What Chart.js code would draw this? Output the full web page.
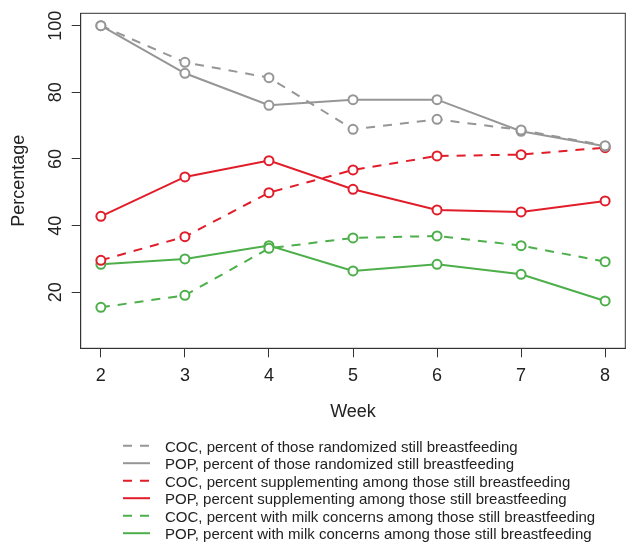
<!DOCTYPE html>
<html>
<head>
<meta charset="utf-8">
<script src="https://cdn.jsdelivr.net/npm/chart.js@4/dist/chart.umd.min.js"></script>
<style>
  body { margin: 0; background: #fff; }
  canvas { display: block; }
</style>
</head>
<body>
<canvas id="myChart" width="640" height="553"></canvas>
<script>
// values
var weeks = [2, 3, 4, 5, 6, 7, 8];
var yTicks = [20, 40, 60, 80, 100];

var cocRandomized = [100, 89.0, 84.4, 68.9, 71.9, 68.7, 64.0];
var popRandomized = [100, 85.7, 76.1, 77.8, 77.8, 68.3, 63.8];
var cocSupplement = [29.6, 36.7, 49.9, 56.7, 60.9, 61.3, 63.4];
var popSupplement = [42.8, 54.6, 59.5, 50.9, 44.7, 44.1, 47.4];
var cocMilk = [15.5, 19.1, 33.2, 36.3, 36.9, 34.0, 29.2];
var popMilk = [28.4, 30.0, 34.0, 26.4, 28.4, 25.4, 17.4];

var seriesLabels = [
  'COC, percent of those randomized still breastfeeding',
  'POP, percent of those randomized still breastfeeding',
  'COC, percent supplementing among those still breastfeeding',
  'POP, percent supplementing among those still breastfeeding',
  'COC, percent with milk concerns among those still breastfeeding',
  'POP, percent with milk concerns among those still breastfeeding'
];

var gray = 'rgb(150,150,150)';
var red = 'rgb(225,29,42)';
var green = 'rgb(77,175,74)';
var dash = [9, 8];
var FONT = '"Liberation Sans", Arial, Helvetica, sans-serif';

function pts(vals) {
  return weeks.map(function(w, i) { return {x: w, y: vals[i]}; });
}

function makeSet(label, vals, color, dashed) {
  return {
    label: label,
    data: pts(vals),
    borderColor: color,
    backgroundColor: color,
    borderWidth: 2,
    borderDash: dashed ? dash : [],
    pointRadius: 4.5,
    pointBorderWidth: 2,
    pointBorderColor: color,
    pointBackgroundColor: '#fff',
    pointHoverRadius: 4.5,
    tension: 0
  };
}

var datasets = [
  makeSet(seriesLabels[0], cocRandomized, gray, true),
  makeSet(seriesLabels[1], popRandomized, gray, false),
  makeSet(seriesLabels[2], cocSupplement, red, true),
  makeSet(seriesLabels[3], popSupplement, red, false),
  makeSet(seriesLabels[4], cocMilk, green, true),
  makeSet(seriesLabels[5], popMilk, green, false)
];

// box, rotated y labels and the legend under the plot
var extras = {
  id: 'extras',
  afterDraw: function(chart) {
    var ctx = chart.ctx, a = chart.chartArea, ys = chart.scales.y;
    ctx.save();
    ctx.strokeStyle = '#333';
    ctx.lineWidth = 1;
    ctx.strokeRect(a.left, a.top, a.right - a.left, a.bottom - a.top);

    ctx.fillStyle = '#222';
    ctx.font = '18px ' + FONT;
    ctx.textAlign = 'center';
    ctx.textBaseline = 'alphabetic';
    yTicks.forEach(function(v) {
      var py = ys.getPixelForValue(v);
      ctx.save();
      ctx.translate(60.5, py);
      ctx.rotate(-Math.PI / 2);
      ctx.fillText(String(v), 0, 0);
      ctx.restore();
    });

    ctx.font = '15px ' + FONT;
    ctx.textAlign = 'left';
    chart.data.datasets.forEach(function(ds, i) {
      var ly = 445.7 + i * 17.5;
      ctx.strokeStyle = ds.borderColor;
      ctx.lineWidth = 2;
      ctx.setLineDash(ds.borderDash);
      ctx.beginPath();
      ctx.moveTo(123, ly);
      ctx.lineTo(150, ly);
      ctx.stroke();
      ctx.setLineDash([]);
      ctx.fillStyle = '#222';
      ctx.fillText(ds.label, 165, ly + 6);
    });
    ctx.restore();
  }
};

var ctx = document.getElementById('myChart').getContext('2d');
var myChart = new Chart(ctx, {
  type: 'line',
  data: { datasets: datasets },
  plugins: [extras],
  options: {
    responsive: false,
    animation: false,
    layout: { padding: { top: 13.3, right: 14.7, left: 0, bottom: 0 } },
    plugins: {
      legend: { display: false },
      tooltip: { enabled: false }
    },
    scales: {
      x: {
        type: 'linear',
        min: 1.76,
        max: 8.24,
        afterBuildTicks: function(scale) {
          scale.ticks = weeks.map(function(w) { return {value: w}; });
        },
        afterFit: function(scale) { scale.height = 553 - 348.3; },
        grid: { drawOnChartArea: false, drawTicks: true, tickLength: 9, tickColor: '#333' },
        border: { display: true, color: '#333', width: 1 },
        ticks: { color: '#222', font: { family: FONT, size: 18 }, padding: 8, maxRotation: 0 },
        title: { display: true, text: 'Week', color: '#222', font: { family: FONT, size: 18 }, padding: { top: 0, bottom: 130 } }
      },
      y: {
        type: 'linear',
        min: 3.2,
        max: 103.7,
        afterBuildTicks: function(scale) {
          scale.ticks = yTicks.map(function(v) { return {value: v}; });
        },
        afterFit: function(scale) { scale.width = 80.7; },
        grid: { drawOnChartArea: false, drawTicks: true, tickLength: 9, tickColor: '#333' },
        border: { display: true, color: '#333', width: 1 },
        ticks: { display: false },
        title: { display: true, text: 'Percentage', color: '#222', font: { family: FONT, size: 18 }, padding: { top: 8, bottom: 0 } }
      }
    }
  }
});
</script>
</body>
</html>
